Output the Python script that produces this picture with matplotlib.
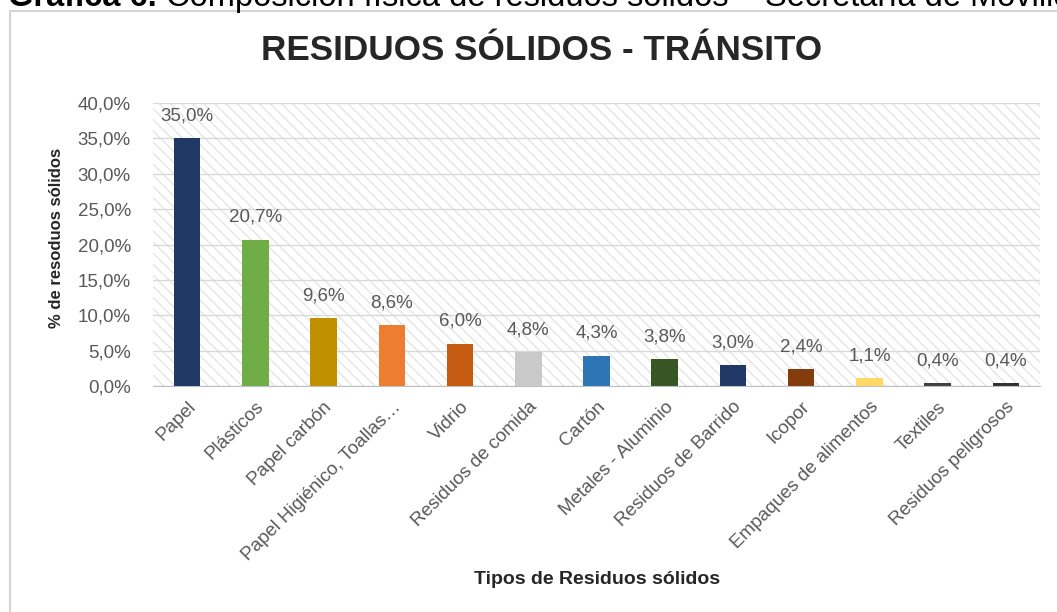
import matplotlib
matplotlib.use("Agg")
import matplotlib.pyplot as plt
from matplotlib.patches import Rectangle
from matplotlib.ticker import MultipleLocator, FuncFormatter

plt.rcParams['font.family'] = ['Liberation Sans', 'DejaVu Sans']

# data
categories = ['Papel', 'Plásticos', 'Papel carbón', 'Papel Higiénico, Toallas…',
              'Vidrio', 'Residuos de comida', 'Cartón', 'Metales - Aluminio',
              'Residuos de Barrido', 'Icopor', 'Empaques de alimentos',
              'Textiles', 'Residuos peligrosos']
values = [35.0, 20.7, 9.6, 8.6, 6.0, 4.8, 4.3, 3.8, 3.0, 2.4, 1.1, 0.4, 0.4]
colors = ['#1f3864', '#70ad47', '#bf9000', '#ed7d31', '#c55a11', '#c9c9c9',
          '#2e75b6', '#375623', '#203864', '#843c0c', '#ffd966', '#404040',
          '#303030']

fig = plt.figure(figsize=(10.57, 6.12), dpi=100)

# caption cut at the top of the page
cap = fig.text(8 / 1057, 1 - 6 / 612, 'Gráfica 6.', fontsize=23.5,
               fontweight='bold', va='baseline', ha='left')
fig.add_artist(plt.Annotation(
    'Composición física de residuos sólidos – Secretaría de Movilidad',
    xy=(1, 0), xycoords=cap, xytext=(7, 0), textcoords='offset points',
    fontsize=23.5, va='bottom', ha='left'))

# chart frame
fig.patches.append(Rectangle((10 / 1057, -0.1), 1.2, 1 - 11 / 612 + 0.1,
                             transform=fig.transFigure, fill=False,
                             edgecolor='#d4d4d4', linewidth=1.5))

ax = fig.add_axes([153 / 1057, 1 - 386 / 612, 887 / 1057, 283 / 612])
x = range(len(categories))

# hatched plot background
plt.rcParams['hatch.linewidth'] = 0.8
ax.add_patch(Rectangle((0, 0), 1, 1, transform=ax.transAxes, facecolor='white',
                       edgecolor='#e0e0e0', hatch='\\\\\\', linewidth=0,
                       zorder=0))

ax.bar(x, values, width=0.39, color=colors, zorder=3)
for i, v in enumerate(values):
    ax.annotate(f'{v:.1f}%'.replace('.', ','), (i, v), xytext=(0, 16),
                textcoords='offset points', ha='center', va='center',
                fontsize=13.5, color='#595959')

ax.set_xlim(-0.5, len(categories) - 0.5)
ax.set_ylim(0, 40)
ax.yaxis.set_major_locator(MultipleLocator(5))
ax.yaxis.set_major_formatter(FuncFormatter(lambda v, p: f'{v:.1f}%'.replace('.', ',')))
ax.grid(axis='y', color='#d9d9d9', linewidth=1, zorder=1)
ax.set_axisbelow(True)
for s in ['top', 'right', 'left']:
    ax.spines[s].set_visible(False)
ax.spines['bottom'].set_color('#bfbfbf')
ax.spines['bottom'].set_zorder(4)
ax.tick_params(axis='y', length=0, pad=16, labelsize=13.5, labelcolor='#595959')
ax.tick_params(axis='x', length=0, pad=9, labelsize=13.5, labelcolor='#595959')
ax.set_xticks(list(x))
ax.set_xticklabels(categories, rotation=45, ha='right', va='top',
                   rotation_mode='anchor')

fig.text(542 / 1057, 1 - 50 / 612, 'RESIDUOS SÓLIDOS - TRÁNSITO', fontsize=25.3,
         fontweight='bold', ha='center', va='center', color='#262626')
fig.text(597 / 1057, 1 - 580 / 612, 'Tipos de Residuos sólidos', fontsize=14,
         fontweight='bold', ha='center', va='center', color='#262626')
fig.text(57 / 1057, 1 - 238 / 612, '% de resoduos sólidos', fontsize=12,
         fontweight='bold', ha='center', va='center', rotation=90,
         color='#262626')

fig.savefig('out.png', dpi=100)
